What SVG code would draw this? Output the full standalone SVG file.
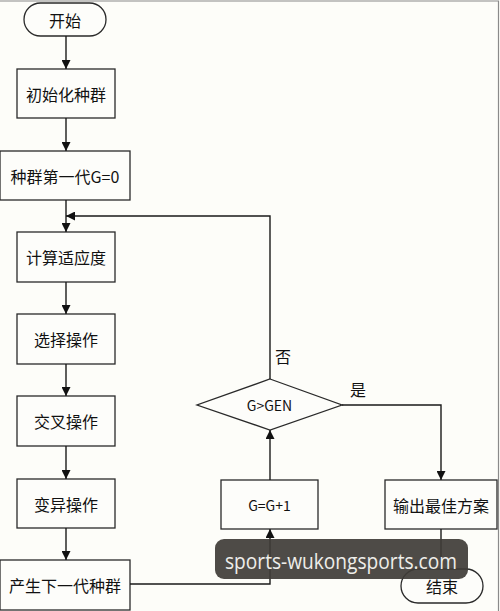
<svg xmlns="http://www.w3.org/2000/svg" width="500" height="611" viewBox="0 0 500 611">
<style>
.box{fill:#fdfdfa;stroke:#2a2a2a;stroke-width:1.3}
.t{font-family:"Noto Sans CJK SC","Liberation Sans",sans-serif;font-size:16px;fill:#111;text-anchor:middle;dominant-baseline:central}
.s{font-size:14px}
.c{fill:none;stroke:#1a1a1a;stroke-width:1.4}
</style>
<defs>
<marker id="ah" viewBox="0 0 10 10" refX="10" refY="5" markerWidth="9" markerHeight="9" markerUnits="userSpaceOnUse" orient="auto">
<path d="M0,0 L10,5 L0,10 Z" fill="#111"/>
</marker>
</defs>
<rect x="0" y="0" width="500" height="611" fill="#fdfdf9"/>
<path d="M0,1 H498.5 V611" fill="none" stroke="#8a8a8a" stroke-width="1.2"/>

<g id="start"><rect class="box" x="24" y="3" width="82" height="33" rx="16.5"/><text class="t" x="65" y="19.5">开始</text></g>
<g id="init"><rect class="box" x="17" y="69" width="98" height="49"/><text class="t" x="66" y="93.5">初始化种群</text></g>
<g id="gen0"><rect class="box" x="0" y="151" width="130" height="49"/><text class="t" x="65" y="175.5">种群第一代G=0</text></g>
<g id="fitness"><rect class="box" x="17" y="232" width="98" height="50"/><text class="t" x="66" y="257">计算适应度</text></g>
<g id="select"><rect class="box" x="17" y="314" width="98" height="50"/><text class="t" x="66" y="339">选择操作</text></g>
<g id="cross"><rect class="box" x="17" y="396" width="98" height="50"/><text class="t" x="66" y="421">交叉操作</text></g>
<g id="mutate"><rect class="box" x="17" y="479" width="98" height="49"/><text class="t" x="66" y="503.5">变异操作</text></g>
<g id="nextgen"><rect class="box" x="0" y="560" width="130" height="50"/><text class="t" x="65" y="585">产生下一代种群</text></g>
<g id="incr"><rect class="box" x="221" y="480" width="97" height="49"/><text class="t s" x="269.5" y="504.5">G=G+1</text></g>
<g id="cond"><polygon class="box" points="270,379 342,405 270,430 197,405"/><text class="t s" x="269.5" y="405">G&gt;GEN</text></g>
<g id="output"><rect class="box" x="385" y="480" width="112" height="49"/><text class="t" x="441" y="504.5">输出最佳方案</text></g>
<g id="end"><rect class="box" x="401" y="569" width="82" height="34" rx="17"/><text class="t" x="442" y="586">结束</text></g>

<g id="connectors">
<path class="c" d="M66,36 V69" marker-end="url(#ah)"/>
<path class="c" d="M66,118 V151" marker-end="url(#ah)"/>
<path class="c" d="M66,200 V232" marker-end="url(#ah)"/>
<path class="c" d="M66,282 V314" marker-end="url(#ah)"/>
<path class="c" d="M66,364 V396" marker-end="url(#ah)"/>
<path class="c" d="M66,446 V479" marker-end="url(#ah)"/>
<path class="c" d="M66,528 V560" marker-end="url(#ah)"/>
<path class="c" d="M130,584 H270 V529" marker-end="url(#ah)"/>
<path class="c" d="M270,480 V430" marker-end="url(#ah)"/>
<path class="c" d="M270,379 V216 H66" marker-end="url(#ah)"/>
<path class="c" d="M342,405 H441 V480" marker-end="url(#ah)"/>
<path class="c" d="M441,529 V569"/>
<text class="t" x="283" y="356">否</text>
<text class="t" x="358" y="389">是</text>
</g>

<g id="watermark">
<rect x="215" y="539" width="253" height="40" rx="9" fill="#3f3c37" fill-opacity="0.92"/>
<text x="341" y="569" font-family="'Open Sans','Noto Sans',sans-serif" font-size="22" fill="#eeeeea" text-anchor="middle" textLength="232" lengthAdjust="spacingAndGlyphs">sports-wukongsports.com</text>
</g>
</svg>
